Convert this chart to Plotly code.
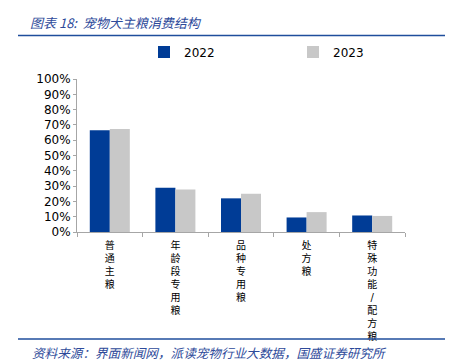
import plotly.graph_objects as go

categories = ["普通主粮", "年龄段专用粮", "品种专用粮", "处方粮", "特殊功能/配方粮"]
values_2022 = [66.5, 29, 22, 9.5, 10.8]
values_2023 = [67.3, 27.7, 25, 13, 10.5]
series_names = ["2022", "2023"]
y_ticks = list(range(0, 101, 10))

tick_text = ["<br>".join(list(c)) for c in categories]

W, H = 449, 361
L, R, T, B = 77, 405, 79, 232

def px(x):
    return (x - L) / (R - L)

def py(y):
    return (B - y) / (B - T)

fig = go.Figure()
fig.add_bar(x=categories, y=values_2022, name=series_names[0], marker_color="#003C96",
            marker_line_width=0)
fig.add_bar(x=categories, y=values_2023, name=series_names[1], marker_color="#C8C8C8",
            marker_line_width=0)

fig.update_layout(
    width=W, height=H,
    margin=dict(l=L, r=W - R, t=T, b=H - B, autoexpand=False),
    plot_bgcolor="white", paper_bgcolor="white",
    barmode="group", bargap=0.39, bargroupgap=0,
    font=dict(family="DejaVu Sans", size=12, color="black"),
    showlegend=True,
    legend=dict(orientation="h", x=px(144), y=py(52), xanchor="left", yanchor="middle",
                xref="paper", yref="paper", entrywidth=104, entrywidthmode="pixels",
                font=dict(size=12, family="DejaVu Sans"), bgcolor="rgba(0,0,0,0)",
                itemclick=False, tracegroupgap=0),
    xaxis=dict(
        tickmode="array", tickvals=categories, ticktext=tick_text,
        showline=True, linecolor="#A6A6A6", linewidth=1,
        ticks="outside", ticklen=4, tickcolor="#A6A6A6", tickson="boundaries",
        ticklabelstandoff=4,
        tickfont=dict(family="DejaVu Sans, Noto Sans CJK SC", size=10, color="black"),
        showgrid=False, automargin=False, fixedrange=True,
    ),
    yaxis=dict(
        range=[0, 100], tickvals=y_ticks, ticktext=[f"{v}%" for v in y_ticks],
        showline=True, linecolor="#A6A6A6", linewidth=1,
        ticks="outside", ticklen=3, tickcolor="#A6A6A6",
        showgrid=False, zeroline=False, automargin=False, fixedrange=True,
        tickfont=dict(family="DejaVu Sans", size=12, color="black"),
    ),
)

# title and source lines
fig.add_shape(type="line", xref="paper", yref="paper", x0=px(18), x1=px(445), y0=py(35.5), y1=py(35.5),
              line=dict(color="#1F4E9C", width=1.5))
fig.add_shape(type="line", xref="paper", yref="paper", x0=px(18), x1=px(445), y0=py(339), y1=py(339),
              line=dict(color="#1F4E9C", width=1.5))

fig.add_annotation(text="<i>图表 18:  宠物犬主粮消费结构</i>", xref="paper", yref="paper",
                   x=px(28), y=py(23), xanchor="left", yanchor="middle", showarrow=False,
                   font=dict(family="Noto Sans CJK SC", size=13, color="#2E4A9A"))
fig.add_annotation(text="<i>资料来源：界面新闻网，派读宠物行业大数据，国盛证券研究所</i>", xref="paper", yref="paper",
                   x=px(30), y=py(352), xanchor="left", yanchor="middle", showarrow=False,
                   font=dict(family="Noto Sans CJK SC", size=12.6, color="#2E4A9A"))

fig.write_html("out.html", config={"displayModeBar": False},
               post_script="document.body.style.margin='0';document.body.style.padding='0';")
